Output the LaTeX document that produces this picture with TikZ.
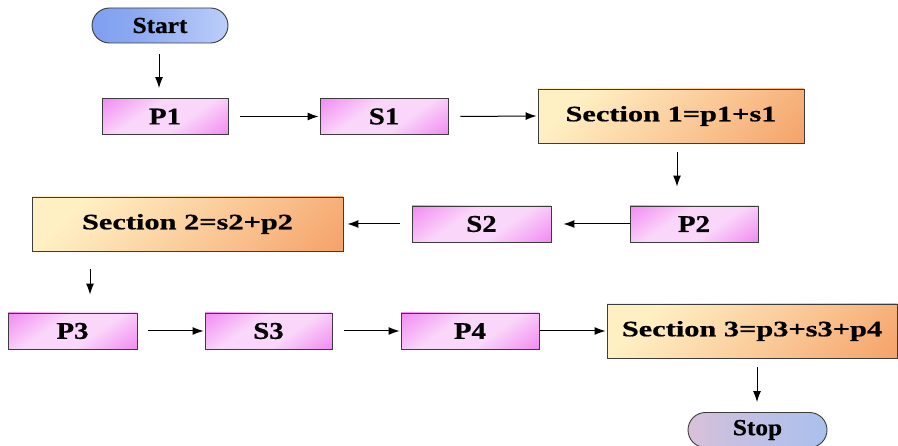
\documentclass[tikz,border=0pt]{standalone}
\usepackage{fontspec}
\setmainfont{Liberation Serif}
\newfontfamily\heavyfont{Liberation Serif}[UprightFont={* Bold}, FakeBold=0.6]
\usetikzlibrary{arrows.meta,shapes.misc}
\definecolor{pdark}{RGB}{236,92,236}
\definecolor{plight}{RGB}{250,214,250}
\definecolor{olight}{RGB}{255,240,196}
\definecolor{odark}{RGB}{243,142,82}
\definecolor{bdark}{RGB}{104,142,236}
\definecolor{blight}{RGB}{222,232,255}
\definecolor{spink}{RGB}{248,192,204}
\definecolor{sblue}{RGB}{150,192,246}
\definecolor{edge}{RGB}{60,60,60}
\pgfdeclarehorizontalshading{pinksh}{100bp}{color(0bp)=(pdark); color(40bp)=(plight); color(60bp)=(plight); color(100bp)=(pdark)}
\pgfdeclarehorizontalshading{orangesh}{100bp}{color(0bp)=(olight); color(25bp)=(olight); color(60bp)=(olight!55!odark); color(100bp)=(odark)}
\pgfdeclarehorizontalshading{startsh}{100bp}{color(0bp)=(bdark); color(40bp)=(bdark!70!blight); color(100bp)=(blight)}
\pgfdeclarehorizontalshading{stopsh}{100bp}{color(0bp)=(spink); color(40bp)=(spink!50!sblue); color(100bp)=(sblue)}
\tikzset{
  pbox/.style={draw=edge, line width=0.9pt, rectangle, shading=pinksh, shading angle=-55,
    minimum height=36pt, inner sep=0pt, font=\fontsize{24}{24}\selectfont\heavyfont},
  secbox/.style={draw=edge, line width=0.9pt, rectangle, shading=orangesh, shading angle=-45,
    minimum height=54pt, inner sep=0pt, font=\fontsize{22}{22}\selectfont\heavyfont},
  termbox/.style={draw=edge, line width=0.9pt, rounded rectangle, inner sep=0pt,
    minimum height=35pt, font=\fontsize{23}{23}\selectfont\heavyfont},
  arr/.style={draw=black, line width=1pt, -{Latex[length=11pt,width=8pt]}}
}
\newcommand{\pw}[1]{\scalebox{1.2}[1]{#1}}
\newcommand{\sw}[1]{\scalebox{1.38}[1]{#1}}
\newcommand{\tw}[1]{\scalebox{1.1}[1]{#1}}
\begin{document}
\begin{tikzpicture}[x=1pt,y=-1pt]
\useasboundingbox (0,0) rectangle (898,446);
\node[termbox, shading=startsh, minimum width=136pt] (start) at (160,25.5) {\tw{Start}};
\node[pbox, minimum width=126pt] (p1) at (165,116.5) {\pw{P1}};
\node[pbox, minimum width=128pt] (s1) at (384,116.5) {\pw{S1}};
\node[secbox, minimum width=266pt] (sec1) at (671,116) {\sw{Section 1=p1+s1}};
\node[pbox, minimum width=128pt] (p2) at (694,224) {\pw{P2}};
\node[pbox, minimum width=139pt] (s2) at (481.5,224) {\pw{S2}};
\node[secbox, minimum width=311pt] (sec2) at (187.5,224) {\sw{Section 2=s2+p2}};
\node[pbox, minimum width=129pt] (p3) at (72.5,331) {\pw{P3}};
\node[pbox, minimum width=127pt] (s3) at (268.5,331) {\pw{S3}};
\node[pbox, minimum width=138pt] (p4) at (470,331) {\pw{P4}};
\node[secbox, minimum width=290pt] (sec3) at (752,331) {\sw{Section 3=p3+s3+p4}};
\node[termbox, shading=stopsh, minimum width=139pt] (stop) at (757.5,430) {\tw{Stop}};
% connectors
\draw[arr] ([xshift=-1pt,yshift=-11pt]start.south) -- ([xshift=-6pt,yshift=10pt]p1.north);
\draw[arr] ([xshift=12pt]p1.east) -- ([xshift=-1pt]s1.west);
\draw[arr] ([xshift=12pt]s1.east) -- ([xshift=-1pt]sec1.west);
\draw[arr] ([xshift=6pt,yshift=-9pt]sec1.south) -- ([xshift=-17pt,yshift=19pt]p2.north);
\draw[arr] (p2.west) -- ([xshift=12pt]s2.east);
\draw[arr] ([xshift=-12pt]s2.west) -- ([xshift=4pt]sec2.east);
\draw[arr] ([xshift=-97.5pt,yshift=-18pt]sec2.south) -- ([xshift=17.5pt,yshift=18pt]p3.north);
\draw[arr] ([xshift=11pt]p3.east) -- ([xshift=-1pt]s3.west);
\draw[arr] ([xshift=12pt]s3.east) -- ([xshift=-1pt]p4.west);
\draw[arr] ([xshift=1pt]p4.east) -- ([xshift=-1pt]sec3.west);
\draw[arr] ([xshift=5pt,yshift=-9pt]sec3.south) -- ([xshift=-0.5pt,yshift=10pt]stop.north);
\end{tikzpicture}
\end{document}
